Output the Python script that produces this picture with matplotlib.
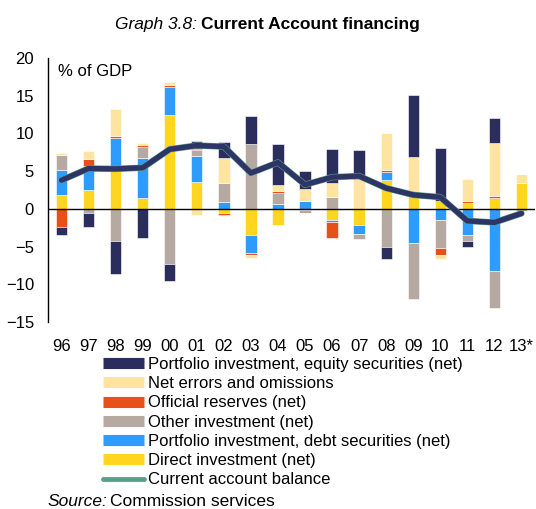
import numpy as np
import matplotlib
matplotlib.use("Agg")
import matplotlib.pyplot as plt
from matplotlib.lines import Line2D

plt.rcParams['font.family'] = ['Liberation Sans', 'DejaVu Sans']

years = ['96', '97', '98', '99', '00', '01', '02', '03', '04', '05', '06',
         '07', '08', '09', '10', '11', '12', '13*']

direct = [1.85, 2.5, 5.0, 1.5, 12.4, 3.6, -0.57, -3.4, -2.1, -0.2, -1.5,
          -2.2, 3.8, 2.0, 1.06, 0.84, 1.5, 3.4]
debt = [3.26, 3.2, 4.4, 5.2, 3.8, 3.4, 0.97, -2.4, 0.7, 1.06, -0.2,
        -1.15, 1.15, -4.5, -1.45, -3.4, -8.2, 0.0]
other = [2.03, -0.6, -4.3, 1.54, -7.3, 0.75, 2.4, 8.6, 1.37, -0.3, 1.6,
         -0.65, -5.1, -7.5, -3.8, -0.8, -5.0, -0.25]
reserves = [-2.47, 0.97, 0.2, 0.17, 0.26, 0.2, -0.18, -0.3, 0.35, -0.1, -2.2,
            0.0, 0.2, 0.22, -0.85, 0.18, 0.2, -0.1]
errors = [0.26, 1.0, 3.65, 0.3, 0.4, -0.8, 3.4, -0.4, 0.75, 1.54, 1.8,
          3.9, 4.85, 4.6, -0.5, 3.0, 7.05, 1.2]
equity = [-0.93, -1.85, -4.3, -3.9, -2.3, 1.0, 2.07, 3.7, 5.4, 2.4, 4.6,
          3.9, -1.55, 8.3, 7.0, -0.8, 3.3, 0.0]
ca_balance = [3.8, 5.35, 5.3, 5.45, 7.9, 8.4, 8.25, 4.75, 6.15, 3.2, 4.2,
              4.35, 2.75, 1.85, 1.55, -1.6, -1.8, -0.6]

series = [
    ('Direct investment (net)', direct, '#FFD520'),
    ('Portfolio investment, debt securities (net)', debt, '#2E9BFF'),
    ('Other investment (net)', other, '#B6A9A1'),
    ('Official reserves (net)', reserves, '#E8501A'),
    ('Net errors and omissions', errors, '#FFE4A1'),
    ('Portfolio investment, equity securities (net)', equity, '#2B2E5C'),
]

fig = plt.figure(figsize=(5.36, 5.09), dpi=100)
ax = fig.add_axes([48 / 536, 1 - 322 / 509, 487 / 536, 264 / 509])

x = np.arange(len(years))
pos = np.zeros(len(years))
neg = np.zeros(len(years))
for name, vals, col in series:
    v = np.array(vals)
    bottom = np.where(v >= 0, pos, neg)
    ax.bar(x, v, 0.42, bottom=bottom, color=col, edgecolor='white',
           linewidth=0.4, zorder=2)
    pos += np.where(v >= 0, v, 0)
    neg += np.where(v < 0, v, 0)

ax.axhline(0, color='black', lw=1, zorder=3)
ax.plot(x, ca_balance, color='#5BA08A', lw=4.6, zorder=4,
        solid_capstyle='round', solid_joinstyle='round')
ax.plot(x, ca_balance, color='#2E3466', lw=3.8, zorder=5,
        solid_capstyle='round', solid_joinstyle='round')

ax.set_xlim(-0.5, len(years) - 0.5)
ax.set_ylim(-15, 20)
ax.set_yticks(range(-15, 21, 5))
ax.set_xticks(x)
ax.set_xticklabels(years)
ax.tick_params(axis='y', length=0, pad=10, labelsize=12)
ax.tick_params(axis='x', length=0, pad=12, labelsize=12)
for s in ['top', 'right', 'bottom']:
    ax.spines[s].set_visible(False)
ax.spines['left'].set_linewidth(1)

ax.text(0.0205, 0.949, '% of GDP', transform=ax.transAxes, fontsize=12,
        va='center', ha='left')

handles = [Line2D([], [], color=col, lw=8, solid_capstyle='butt')
           for name, vals, col in series[::-1]]
labels = [name for name, vals, col in series[::-1]]
handles.append(Line2D([], [], color='#5BA08A', lw=3.5, solid_capstyle='round'))
labels.append('Current account balance')
fig.legend(handles, labels, loc='upper left',
           bbox_to_anchor=(103 / 536, 1 - 357 / 509), frameon=False,
           fontsize=12, handlelength=2.45, handletextpad=0.24,
           labelspacing=0.255, borderpad=0, borderaxespad=0)

fig.text(197 / 536, 1 - 25 / 509, 'Graph 3.8:', style='italic',
         fontsize=12.5, ha='right', va='center')
fig.text(201 / 536, 1 - 25 / 509, 'Current Account financing',
         weight='bold', fontsize=12.5, ha='left', va='center')
fig.text(107 / 536, 1 - 502 / 509, 'Source:', style='italic',
         fontsize=12.5, ha='right', va='center')
fig.text(110 / 536, 1 - 502 / 509, 'Commission services',
         fontsize=12.5, ha='left', va='center')

fig.savefig('out.png', dpi=100)
